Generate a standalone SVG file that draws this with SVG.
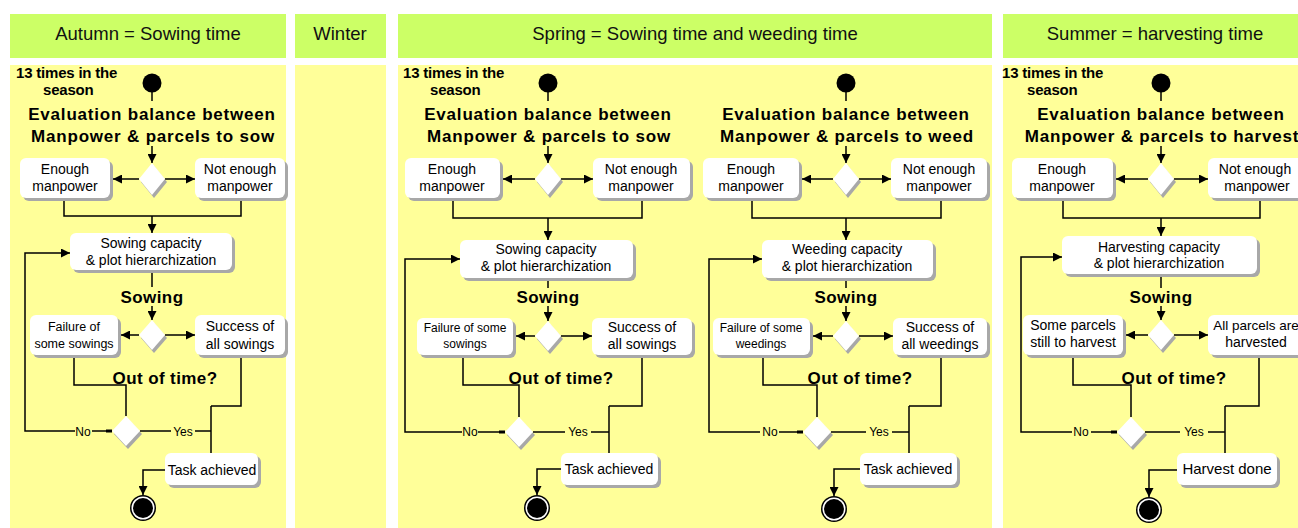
<svg xmlns="http://www.w3.org/2000/svg" width="1298" height="528" viewBox="0 0 1298 528">
<defs>
<style>
.hdr{fill:#ccff66}
.lane{fill:#ffff99}
.ht{font-family:"Liberation Sans",Arial,sans-serif;font-size:18.5px;text-anchor:middle;fill:#111}
.ttl{font-family:"Liberation Sans",Arial,sans-serif;font-weight:bold;font-size:17px;letter-spacing:0.8px;text-anchor:middle;fill:#000}
.lbl{font-family:"Liberation Sans",Arial,sans-serif;font-weight:bold;font-size:17px;letter-spacing:0.4px;text-anchor:middle;fill:#000}
.note{font-family:"Liberation Sans",Arial,sans-serif;font-weight:bold;font-size:15px;letter-spacing:-0.2px;fill:#000}
.t14{font-family:"Liberation Sans",Arial,sans-serif;font-size:14px;text-anchor:middle;fill:#000}
.t12{font-family:"Liberation Sans",Arial,sans-serif;font-size:12.5px;text-anchor:middle;fill:#000}
.t11{font-family:"Liberation Sans",Arial,sans-serif;font-size:12px;text-anchor:middle;fill:#000}
.bx{fill:#fff}
.sh{fill:#a8a8a8}
.ln{fill:none;stroke:#000;stroke-width:1.5}
.arr{marker-end:url(#ah)}
.dash{fill:none;stroke:#000;stroke-width:3}
</style>
<marker id="ah" markerUnits="userSpaceOnUse" markerWidth="10" markerHeight="9" refX="9" refY="4.5" orient="auto">
<path d="M0,0 L9,4.5 L0,9 z" fill="#000"/>
</marker>
</defs>

<rect width="1298" height="528" fill="#fff"/>

<g id="lanes">
<rect class="hdr" x="10" y="14" width="276" height="44"/>
<rect class="hdr" x="295" y="14" width="91" height="44"/>
<rect class="hdr" x="398" y="14" width="594" height="44"/>
<rect class="hdr" x="1003" y="14" width="295" height="44"/>
<rect class="lane" x="10" y="65" width="276" height="463"/>
<rect class="lane" x="295" y="65" width="91" height="463"/>
<rect class="lane" x="398" y="65" width="594" height="463"/>
<rect class="lane" x="1003" y="65" width="295" height="463"/>
<text class="ht" x="148" y="40">Autumn = Sowing time</text>
<text class="ht" x="340" y="40">Winter</text>
<text class="ht" x="695" y="40">Spring = Sowing time and weeding time</text>
<text class="ht" x="1155" y="40">Summer = harvesting time</text>
</g>

<g id="connectors">
<!-- Autumn -->
<path class="ln" d="M152,92 V101"/>
<path class="ln arr" d="M152,146 V163"/>
<path class="ln arr" d="M139,179 H113"/>
<path class="ln arr" d="M165,179 H195"/>
<path class="ln" d="M64,198 V216 H241 V198"/>
<path class="ln arr" d="M152,216 V233"/>
<path class="ln" d="M152,270 V287"/>
<path class="ln arr" d="M152,306 V320"/>
<path class="ln arr" d="M139,335 H121"/>
<path class="ln arr" d="M165,335 H195"/>
<path class="ln" d="M74,355 V385 H126 V416"/>
<path class="ln" d="M112,431 H92"/>
<path class="dash" d="M106,431 H112"/>
<path class="ln arr" d="M75,431 H25 V253 H70"/>
<path class="ln" d="M140,431 H171"/>
<path class="ln" d="M195,431 H211"/>
<path class="ln" d="M211,406 V453"/>
<path class="ln" d="M211,406 H241 V355"/>
<path class="ln arr" d="M165,470 H143 V495"/>
<!-- Spring 1 -->
<path class="ln" d="M548,92 V101"/>
<path class="ln arr" d="M548,146 V163"/>
<path class="ln arr" d="M535,179 H503"/>
<path class="ln arr" d="M561,179 H593"/>
<path class="ln" d="M453,198 V218 H642 V198"/>
<path class="ln arr" d="M548,218 V240"/>
<path class="ln" d="M548,278 V288"/>
<path class="ln arr" d="M548,306 V321"/>
<path class="ln arr" d="M535,336 H516"/>
<path class="ln arr" d="M561,336 H592"/>
<path class="ln" d="M463,355 V385 H519 V417"/>
<path class="ln" d="M505,432 H478"/>
<path class="dash" d="M499,432 H505"/>
<path class="ln arr" d="M462,432 H405 V259 H460"/>
<path class="ln" d="M533,432 H565"/>
<path class="ln" d="M591,432 H609"/>
<path class="ln" d="M609,406 V453"/>
<path class="ln" d="M609,406 H642 V355"/>
<path class="ln arr" d="M561,469 H537 V495"/>
<!-- Spring 2 -->
<path class="ln" d="M846,92 V101"/>
<path class="ln arr" d="M846,146 V163"/>
<path class="ln arr" d="M833,179 H802"/>
<path class="ln arr" d="M859,179 H891"/>
<path class="ln" d="M752,198 V218 H941 V198"/>
<path class="ln arr" d="M846,218 V240"/>
<path class="ln" d="M846,278 V288"/>
<path class="ln arr" d="M846,306 V321"/>
<path class="ln arr" d="M833,336 H813"/>
<path class="ln arr" d="M859,336 H893"/>
<path class="ln" d="M763,355 V385 H817 V417"/>
<path class="ln" d="M803,432 H779"/>
<path class="dash" d="M797,432 H803"/>
<path class="ln arr" d="M760,432 H709 V259 H762"/>
<path class="ln" d="M831,432 H866"/>
<path class="ln" d="M892,432 H909"/>
<path class="ln" d="M909,406 V453"/>
<path class="ln" d="M909,406 H941 V355"/>
<path class="ln arr" d="M860,469 H834 V496"/>
<!-- Summer -->
<path class="ln" d="M1161,92 V101"/>
<path class="ln arr" d="M1161,146 V163"/>
<path class="ln arr" d="M1148,179 H1116"/>
<path class="ln arr" d="M1174,179 H1208"/>
<path class="ln" d="M1063,198 V218 H1260 V198"/>
<path class="ln arr" d="M1161,218 V236"/>
<path class="ln" d="M1161,274 V288"/>
<path class="ln arr" d="M1161,306 V320"/>
<path class="ln arr" d="M1148,335 H1126"/>
<path class="ln arr" d="M1174,335 H1208"/>
<path class="ln" d="M1073,355 V385 H1131 V417"/>
<path class="ln" d="M1117,432 H1091"/>
<path class="dash" d="M1111,432 H1117"/>
<path class="ln arr" d="M1072,432 H1021 V257 H1062"/>
<path class="ln" d="M1145,432 H1180"/>
<path class="ln" d="M1208,432 H1225"/>
<path class="ln" d="M1225,406 V453"/>
<path class="ln" d="M1225,406 H1259 V355"/>
<path class="ln arr" d="M1177,470 H1149 V497"/>
</g>

<g id="labels">
<text class="t11" x="83" y="436">No</text>
<text class="t11" x="183" y="436">Yes</text>
<text class="t11" x="470" y="436">No</text>
<text class="t11" x="578" y="436">Yes</text>
<text class="t11" x="770" y="436">No</text>
<text class="t11" x="879" y="436">Yes</text>
<text class="t11" x="1081" y="436">No</text>
<text class="t11" x="1194" y="436">Yes</text>
</g>

<!-- ===== Autumn ===== -->
<g id="a-note"><text class="note" x="16" y="78">13 times in the</text><text class="note" x="43" y="95">season</text></g>
<g id="a-start"><circle cx="152" cy="83" r="9.5" fill="#000"/></g>
<g id="a-eval"><text class="ttl" x="152" y="120">Evaluation balance between</text><text class="ttl" x="153" y="142">Manpower &amp; parcels to sow</text></g>
<g id="a-d1"><polygon class="sh" points="154,166 167,182 154,198 141,182"/><polygon class="bx" points="152,163 165,179 152,195 139,179"/></g>
<g id="a-enough"><rect class="sh" x="23" y="161" width="90" height="40" rx="6"/><rect class="bx" x="20" y="158" width="90" height="40" rx="6"/><text class="t14" x="65" y="174">Enough</text><text class="t14" x="65" y="191">manpower</text></g>
<g id="a-notenough"><rect class="sh" x="198" y="161" width="90" height="40" rx="6"/><rect class="bx" x="195" y="158" width="90" height="40" rx="6"/><text class="t14" x="240" y="174">Not enough</text><text class="t14" x="240" y="191">manpower</text></g>
<g id="a-capacity"><rect class="sh" x="73" y="236" width="162" height="37" rx="6"/><rect class="bx" x="70" y="233" width="162" height="37" rx="6"/><text class="t14" x="151" y="248">Sowing capacity</text><text class="t14" x="151" y="265">&amp; plot hierarchization</text></g>
<g id="a-sowing"><text class="lbl" x="152" y="303">Sowing</text></g>
<g id="a-d2"><polygon class="sh" points="154,323 167,338 154,353 141,338"/><polygon class="bx" points="152,320 165,335 152,350 139,335"/></g>
<g id="a-failure"><rect class="sh" x="33" y="318" width="88" height="40" rx="6"/><rect class="bx" x="30" y="315" width="88" height="40" rx="6"/><text class="t12" x="74" y="331">Failure of</text><text class="t12" x="74" y="348">some sowings</text></g>
<g id="a-success"><rect class="sh" x="198" y="318" width="90" height="40" rx="6"/><rect class="bx" x="195" y="315" width="90" height="40" rx="6"/><text class="t14" x="240" y="331">Success of</text><text class="t14" x="240" y="349">all sowings</text></g>
<g id="a-outoftime"><text class="lbl" x="165" y="384">Out of time?</text></g>
<g id="a-d3"><polygon class="sh" points="128,419 142,434 128,449 114,434"/><polygon class="bx" points="126,416 140,431 126,446 112,431"/></g>
<g id="a-task"><rect class="sh" x="168" y="456" width="93" height="32" rx="6"/><rect class="bx" x="165" y="453" width="93" height="32" rx="6"/><text class="t14" x="212" y="475">Task achieved</text></g>
<g id="a-end"><circle cx="143" cy="508" r="13" fill="#000"/><circle cx="143" cy="508" r="11.5" fill="#fff"/><circle cx="143" cy="508" r="10" fill="#000"/></g>

<!-- ===== Spring 1 ===== -->
<g id="s1-note"><text class="note" x="403" y="78">13 times in the</text><text class="note" x="430" y="95">season</text></g>
<g id="s1-start"><circle cx="548" cy="83" r="9.5" fill="#000"/></g>
<g id="s1-eval"><text class="ttl" x="548" y="120">Evaluation balance between</text><text class="ttl" x="549" y="142">Manpower &amp; parcels to sow</text></g>
<g id="s1-d1"><polygon class="sh" points="550,166 563,182 550,198 537,182"/><polygon class="bx" points="548,163 561,179 548,195 535,179"/></g>
<g id="s1-enough"><rect class="sh" x="408" y="161" width="95" height="40" rx="6"/><rect class="bx" x="405" y="158" width="95" height="40" rx="6"/><text class="t14" x="452" y="174">Enough</text><text class="t14" x="452" y="191">manpower</text></g>
<g id="s1-notenough"><rect class="sh" x="596" y="161" width="97" height="40" rx="6"/><rect class="bx" x="593" y="158" width="97" height="40" rx="6"/><text class="t14" x="641" y="174">Not enough</text><text class="t14" x="641" y="191">manpower</text></g>
<g id="s1-capacity"><rect class="sh" x="463" y="243" width="173" height="38" rx="6"/><rect class="bx" x="460" y="240" width="173" height="38" rx="6"/><text class="t14" x="546" y="254">Sowing capacity</text><text class="t14" x="546" y="271">&amp; plot hierarchization</text></g>
<g id="s1-sowing"><text class="lbl" x="548" y="303">Sowing</text></g>
<g id="s1-d2"><polygon class="sh" points="550,324 563,339 550,354 537,339"/><polygon class="bx" points="548,321 561,336 548,351 535,336"/></g>
<g id="s1-failure"><rect class="sh" x="420" y="321" width="96" height="37" rx="6"/><rect class="bx" x="417" y="318" width="96" height="37" rx="6"/><text class="t11" x="465" y="332">Failure of some</text><text class="t11" x="465" y="348">sowings</text></g>
<g id="s1-success"><rect class="sh" x="595" y="321" width="100" height="37" rx="6"/><rect class="bx" x="592" y="318" width="100" height="37" rx="6"/><text class="t14" x="642" y="332">Success of</text><text class="t14" x="642" y="349">all sowings</text></g>
<g id="s1-outoftime"><text class="lbl" x="561" y="384">Out of time?</text></g>
<g id="s1-d3"><polygon class="sh" points="521,420 535,435 521,450 507,435"/><polygon class="bx" points="519,417 533,432 519,447 505,432"/></g>
<g id="s1-task"><rect class="sh" x="564" y="456" width="97" height="32" rx="6"/><rect class="bx" x="561" y="453" width="97" height="32" rx="6"/><text class="t14" x="609" y="474">Task achieved</text></g>
<g id="s1-end"><circle cx="537" cy="508" r="13" fill="#000"/><circle cx="537" cy="508" r="11.5" fill="#fff"/><circle cx="537" cy="508" r="10" fill="#000"/></g>

<!-- ===== Spring 2 ===== -->
<g id="s2-start"><circle cx="846" cy="83" r="9.5" fill="#000"/></g>
<g id="s2-eval"><text class="ttl" x="846" y="120">Evaluation balance between</text><text class="ttl" x="847" y="142">Manpower &amp; parcels to weed</text></g>
<g id="s2-d1"><polygon class="sh" points="848,166 861,182 848,198 835,182"/><polygon class="bx" points="846,163 859,179 846,195 833,179"/></g>
<g id="s2-enough"><rect class="sh" x="706" y="161" width="96" height="40" rx="6"/><rect class="bx" x="703" y="158" width="96" height="40" rx="6"/><text class="t14" x="751" y="174">Enough</text><text class="t14" x="751" y="191">manpower</text></g>
<g id="s2-notenough"><rect class="sh" x="894" y="161" width="96" height="40" rx="6"/><rect class="bx" x="891" y="158" width="96" height="40" rx="6"/><text class="t14" x="939" y="174">Not enough</text><text class="t14" x="939" y="191">manpower</text></g>
<g id="s2-capacity"><rect class="sh" x="765" y="243" width="171" height="38" rx="6"/><rect class="bx" x="762" y="240" width="171" height="38" rx="6"/><text class="t14" x="847" y="254">Weeding capacity</text><text class="t14" x="847" y="271">&amp; plot hierarchization</text></g>
<g id="s2-sowing"><text class="lbl" x="846" y="303">Sowing</text></g>
<g id="s2-d2"><polygon class="sh" points="848,324 861,339 848,354 835,339"/><polygon class="bx" points="846,321 859,336 846,351 833,336"/></g>
<g id="s2-failure"><rect class="sh" x="716" y="321" width="97" height="37" rx="6"/><rect class="bx" x="713" y="318" width="97" height="37" rx="6"/><text class="t11" x="761" y="332">Failure of some</text><text class="t11" x="761" y="348">weedings</text></g>
<g id="s2-success"><rect class="sh" x="896" y="321" width="94" height="37" rx="6"/><rect class="bx" x="893" y="318" width="94" height="37" rx="6"/><text class="t14" x="940" y="332">Success of</text><text class="t14" x="940" y="349">all weedings</text></g>
<g id="s2-outoftime"><text class="lbl" x="860" y="384">Out of time?</text></g>
<g id="s2-d3"><polygon class="sh" points="819,420 833,435 819,450 805,435"/><polygon class="bx" points="817,417 831,432 817,447 803,432"/></g>
<g id="s2-task"><rect class="sh" x="863" y="456" width="97" height="32" rx="6"/><rect class="bx" x="860" y="453" width="97" height="32" rx="6"/><text class="t14" x="908" y="474">Task achieved</text></g>
<g id="s2-end"><circle cx="834" cy="509" r="13" fill="#000"/><circle cx="834" cy="509" r="11.5" fill="#fff"/><circle cx="834" cy="509" r="10" fill="#000"/></g>

<!-- ===== Summer ===== -->
<g id="m-note"><text class="note" x="1002" y="78">13 times in the</text><text class="note" x="1027" y="95">season</text></g>
<g id="m-start"><circle cx="1161" cy="83" r="9.5" fill="#000"/></g>
<g id="m-eval"><text class="ttl" x="1161" y="120">Evaluation balance between</text><text class="ttl" x="1162" y="142">Manpower &amp; parcels to harvest</text></g>
<g id="m-d1"><polygon class="sh" points="1163,166 1176,182 1163,198 1150,182"/><polygon class="bx" points="1161,163 1174,179 1161,195 1148,179"/></g>
<g id="m-enough"><rect class="sh" x="1015" y="161" width="101" height="40" rx="6"/><rect class="bx" x="1012" y="158" width="101" height="40" rx="6"/><text class="t14" x="1062" y="174">Enough</text><text class="t14" x="1062" y="191">manpower</text></g>
<g id="m-notenough"><rect class="sh" x="1211" y="161" width="100" height="40" rx="6"/><rect class="bx" x="1208" y="158" width="100" height="40" rx="6"/><text class="t14" x="1255" y="174">Not enough</text><text class="t14" x="1257" y="191">manpower</text></g>
<g id="m-capacity"><rect class="sh" x="1065" y="239" width="195" height="38" rx="6"/><rect class="bx" x="1062" y="236" width="195" height="38" rx="6"/><text class="t14" x="1159" y="252">Harvesting capacity</text><text class="t14" x="1159" y="268">&amp; plot hierarchization</text></g>
<g id="m-sowing"><text class="lbl" x="1161" y="303">Sowing</text></g>
<g id="m-d2"><polygon class="sh" points="1163,323 1176,338 1163,353 1150,338"/><polygon class="bx" points="1161,320 1174,335 1161,350 1148,335"/></g>
<g id="m-some"><rect class="sh" x="1026" y="318" width="100" height="40" rx="6"/><rect class="bx" x="1023" y="315" width="100" height="40" rx="6"/><text class="t14" x="1073" y="330">Some parcels</text><text class="t14" x="1073" y="347">still to harvest</text></g>
<g id="m-all"><rect class="sh" x="1211" y="318" width="100" height="40" rx="6"/><rect class="bx" x="1208" y="315" width="100" height="40" rx="6"/><text class="t14" x="1256" y="330" style="font-size:13.5px">All parcels are</text><text class="t14" x="1256" y="347">harvested</text></g>
<g id="m-outoftime"><text class="lbl" x="1174" y="384">Out of time?</text></g>
<g id="m-d3"><polygon class="sh" points="1133,420 1147,435 1133,450 1119,435"/><polygon class="bx" points="1131,417 1145,432 1131,447 1117,432"/></g>
<g id="m-done"><rect class="sh" x="1180" y="456" width="100" height="32" rx="6"/><rect class="bx" x="1177" y="453" width="100" height="32" rx="6"/><text class="t14" x="1227" y="474" style="font-size:15px">Harvest done</text></g>
<g id="m-end"><circle cx="1149" cy="510" r="13" fill="#000"/><circle cx="1149" cy="510" r="11.5" fill="#fff"/><circle cx="1149" cy="510" r="10" fill="#000"/></g>
</svg>
